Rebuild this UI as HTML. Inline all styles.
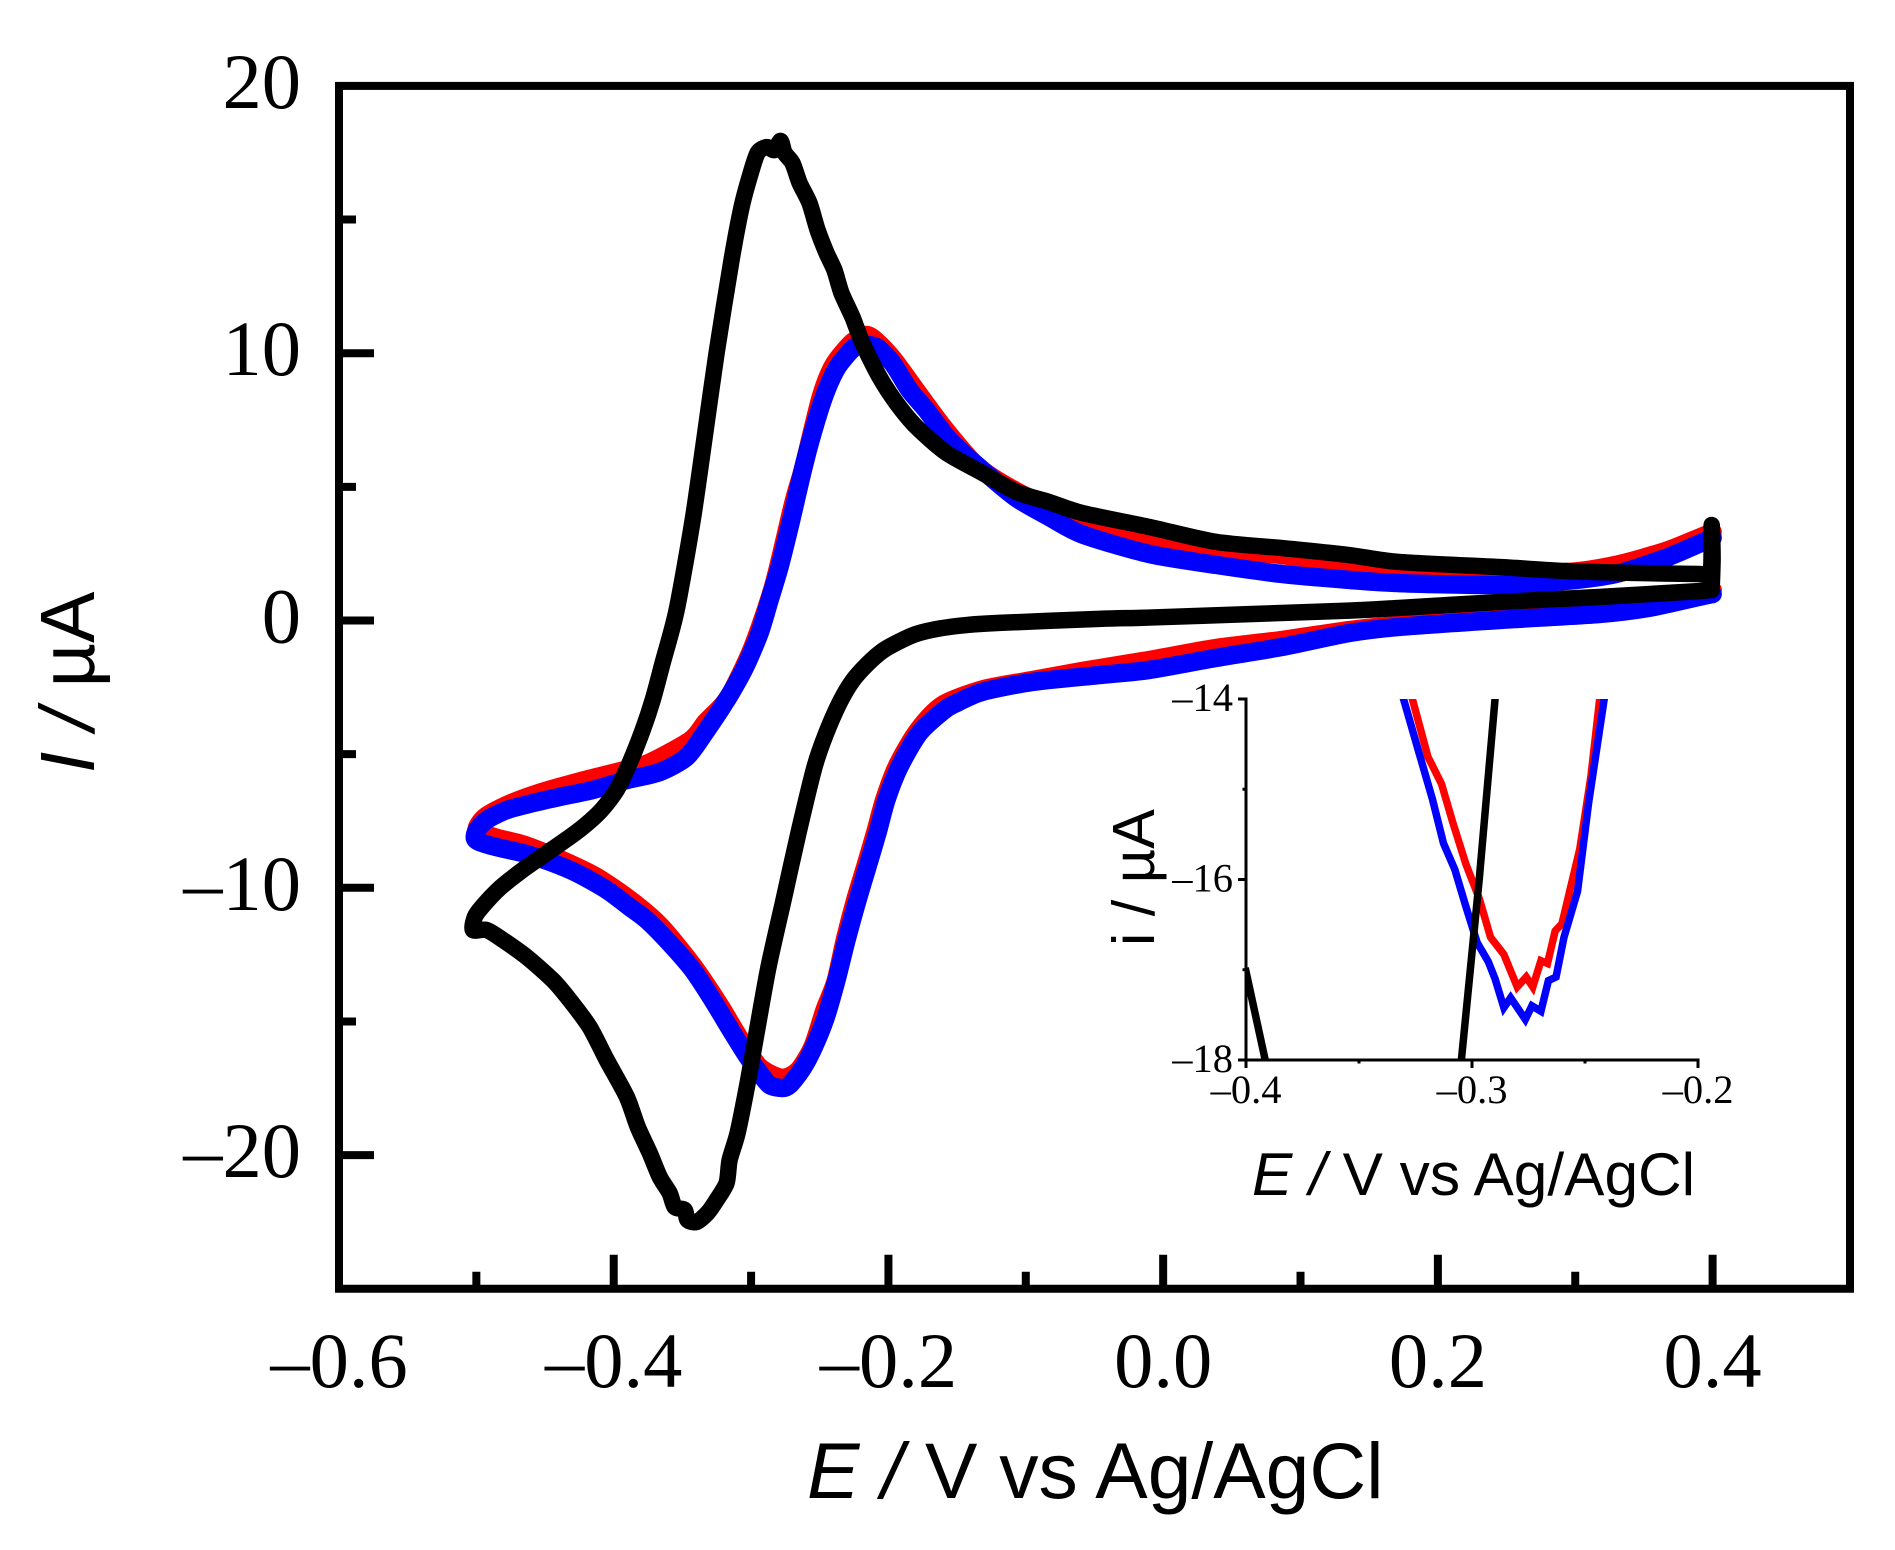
<!DOCTYPE html>
<html lang="en">
<head>
<meta charset="utf-8">
<title>Cyclic voltammograms</title>
<style>
html,body{margin:0;padding:0;background:#fff;width:1895px;height:1550px;overflow:hidden}
svg{display:block}
.num{font-family:"Liberation Serif",serif;fill:#000}
.ttl{font-family:"Liberation Sans",sans-serif;fill:#000}
</style>
</head>
<body>
<svg id="chart" xmlns="http://www.w3.org/2000/svg" width="1895" height="1550" viewBox="0 0 1895 1550">
  <rect x="0" y="0" width="1895" height="1550" fill="#fff"/>
  <defs>
    <clipPath id="inset-clip"><rect x="1246" y="699" width="452" height="361"/></clipPath>
  </defs>
  <g id="main-series"></g>
  <g id="main-axes"></g>
  <g id="inset-series" clip-path="url(#inset-clip)"></g>
  <g id="inset-axes"></g>
  <text class="ttl" x="807" y="1498" font-size="78.6"><tspan font-style="italic">E</tspan> <tspan font-style="italic">/</tspan> V vs Ag/AgCl</text>
  <text class="ttl" transform="translate(94,773) rotate(-90)" font-size="77"><tspan font-style="italic">I</tspan> <tspan font-style="italic">/</tspan> µA</text>
  <text class="ttl" x="1252" y="1195" font-size="60.4"><tspan font-style="italic">E</tspan> <tspan font-style="italic">/</tspan> V vs Ag/AgCl</text>
  <text class="ttl" transform="translate(1154,946) rotate(-90)" font-size="59.5">i / µA</text>
</svg>
<script>
// ---- main plot tick values ----
const mainXMajor = [-0.6, -0.4, -0.2, 0.0, 0.2, 0.4];
const mainXMinor = [-0.5, -0.3, -0.1, 0.1, 0.3];
const mainYMajor = [20, 10, 0, -10, -20];
const mainYMinor = [15, 5, -5, -15];
// ---- main plot series ----
const redE = [0.4,0.3898,0.3171,0.2444,0.1716,0.1353,0.0865,0.0385,-0.0102,-0.0589,-0.0953,-0.1302,-0.1607,-0.1789,-0.1935,-0.2029,-0.2095,-0.2167,-0.224,-0.2315,-0.2385,-0.2465,-0.2553,-0.2662,-0.2778,-0.2938,-0.3084,-0.3229,-0.3425,-0.3658,-0.3869,-0.4124,-0.4364,-0.4647,-0.4844,-0.4975,-0.4996,-0.4938,-0.4778,-0.4524,-0.4211,-0.3978,-0.3745,-0.344,-0.3331,-0.3215,-0.3142,-0.2989,-0.2836,-0.2691,-0.2618,-0.2495,-0.24,-0.2262,-0.216,-0.208,-0.1964,-0.1789,-0.16,-0.1353,-0.1069,-0.0589,-0.0102,0.0385,0.0865,0.1353,0.1716,0.2444,0.2931,0.3295,0.3658,0.3898,0.4];
const redI = [1.14,0.99,0.36,0.09,-0.17,-0.36,-0.73,-1.03,-1.48,-1.89,-2.23,-2.56,-3.16,-4.13,-5.41,-6.68,-7.91,-9.18,-10.42,-11.9,-13.5,-14.57,-15.95,-16.85,-17.11,-16.7,-15.62,-14.38,-12.89,-11.43,-10.49,-9.59,-8.99,-8.4,-8.14,-7.91,-7.76,-7.35,-6.9,-6.42,-5.97,-5.67,-5.33,-4.47,-3.8,-3.2,-2.67,-0.99,1.33,4.43,5.74,8.32,9.56,10.42,10.68,10.42,9.78,8.55,7.24,5.78,4.84,3.68,3.05,2.67,2.45,2.08,1.96,1.89,1.81,2.08,2.6,3.09,3.31];
const blueE = [0.4,0.3898,0.3535,0.3171,0.2444,0.1716,0.1353,0.0865,0.0385,-0.0102,-0.0465,-0.0953,-0.1316,-0.1505,-0.1593,-0.1775,-0.192,-0.2015,-0.208,-0.2153,-0.2225,-0.2305,-0.2378,-0.2458,-0.2553,-0.2633,-0.272,-0.2771,-0.2865,-0.2938,-0.3025,-0.3135,-0.328,-0.3425,-0.3593,-0.376,-0.3884,-0.4051,-0.4269,-0.4465,-0.4662,-0.4829,-0.4975,-0.5011,-0.4996,-0.4924,-0.4778,-0.4589,-0.4393,-0.4153,-0.3905,-0.3665,-0.3469,-0.3338,-0.3178,-0.3047,-0.2938,-0.2865,-0.2793,-0.2713,-0.2611,-0.2524,-0.2451,-0.2371,-0.2269,-0.2211,-0.2087,-0.1971,-0.1847,-0.1724,-0.1556,-0.1316,-0.1069,-0.0829,-0.0589,-0.0102,0.0385,0.0865,0.1353,0.1716,0.2444,0.2931,0.3295,0.3658,0.3898,0.4];
const blueI = [0.99,0.88,0.47,0.24,0.02,-0.24,-0.47,-0.99,-1.4,-1.85,-2.04,-2.3,-2.67,-3.09,-3.35,-4.21,-5.48,-6.72,-7.95,-9.22,-10.46,-11.95,-13.45,-14.87,-16.07,-16.82,-17.38,-17.49,-17.38,-16.93,-16.33,-15.43,-14.2,-13.07,-12.07,-11.2,-10.72,-10.08,-9.45,-9.03,-8.7,-8.51,-8.29,-8.14,-7.84,-7.46,-7.09,-6.83,-6.6,-6.34,-5.97,-5.67,-5.11,-4.21,-2.97,-1.78,-0.47,0.77,2.0,3.65,5.89,7.5,8.62,9.48,10.12,10.31,10.23,9.63,8.62,7.87,6.75,5.63,4.58,3.87,3.22,2.49,2.08,1.74,1.52,1.4,1.33,1.48,1.74,2.34,2.86,3.09];
const blackE = [0.3993,0.3898,0.3171,0.2444,0.1716,0.1353,0.0625,-0.0102,-0.0465,-0.1193,-0.1433,-0.1629,-0.1796,-0.192,-0.2044,-0.2153,-0.2262,-0.2356,-0.2458,-0.2538,-0.2655,-0.2764,-0.2873,-0.296,-0.3025,-0.3098,-0.3156,-0.3178,-0.3251,-0.3316,-0.3396,-0.3462,-0.3484,-0.3556,-0.3593,-0.3665,-0.3738,-0.3825,-0.3905,-0.4051,-0.4175,-0.432,-0.4444,-0.4633,-0.4807,-0.4924,-0.5025,-0.5011,-0.496,-0.4829,-0.4662,-0.4487,-0.4269,-0.4102,-0.3978,-0.3884,-0.3789,-0.3716,-0.3644,-0.3542,-0.3425,-0.3338,-0.3251,-0.3142,-0.3069,-0.3011,-0.2953,-0.2887,-0.2829,-0.2785,-0.2756,-0.2698,-0.2647,-0.2575,-0.2516,-0.2451,-0.2393,-0.2342,-0.2262,-0.2189,-0.2065,-0.1942,-0.1796,-0.1578,-0.1316,-0.1069,-0.0829,-0.0589,-0.0102,0.0385,0.0865,0.1353,0.1716,0.2444,0.2931,0.3411,0.3898,0.3985,0.3993,0.4,0.3993];
const blackI = [1.14,1.10,0.88,0.69,0.47,0.37,0.24,0.11,0.06,-0.09,-0.17,-0.30,-0.50,-0.78,-1.14,-1.63,-2.26,-3.08,-4.28,-5.48,-7.95,-10.46,-12.96,-15.43,-17.3,-19.17,-20.18,-21.04,-21.68,-22.16,-22.5,-22.43,-22.05,-21.94,-21.42,-20.82,-19.92,-18.95,-17.82,-16.44,-15.21,-14.2,-13.45,-12.59,-11.95,-11.58,-11.58,-11.09,-10.72,-10.01,-9.33,-8.7,-7.91,-7.16,-6.34,-5.33,-4.1,-2.97,-1.59,0.39,3.76,6.86,10.01,13.49,15.47,16.59,17.49,17.71,17.6,17.94,17.49,17.11,16.37,15.62,14.61,13.75,13.11,12.25,11.35,10.38,9.11,8.14,7.24,6.27,5.52,4.81,4.43,4.02,3.5,2.94,2.71,2.45,2.19,2.0,1.85,1.78,1.74,1.78,3.57,2.34,1.14];
// ---- inset tick values ----
const insetXMajor = [-0.4, -0.3, -0.2];
const insetXMinor = [-0.35, -0.25];
const insetYMajor = [-14, -16, -18];
const insetYMinor = [-15, -17];
// ---- inset series ----
const insetRedE = [-0.3264,-0.3195,-0.3135,-0.3086,-0.3027,-0.2968,-0.2918,-0.2859,-0.28,-0.276,-0.2731,-0.2695,-0.2666,-0.2632,-0.2602,-0.2523,-0.2474,-0.2435];
const insetRedI = [-14,-14.64,-14.94,-15.36,-15.83,-16.21,-16.64,-16.83,-17.19,-17.08,-17.19,-16.9,-16.93,-16.57,-16.49,-15.66,-14.86,-14];
const insetBlueE = [-0.3303,-0.3234,-0.3175,-0.3126,-0.3076,-0.3027,-0.2977,-0.2928,-0.2898,-0.2859,-0.2829,-0.2764,-0.2735,-0.2695,-0.2662,-0.2628,-0.2593,-0.2533,-0.2484,-0.2415];
const insetBlueI = [-14,-14.6,-15.11,-15.6,-15.89,-16.3,-16.7,-16.91,-17.1,-17.42,-17.31,-17.55,-17.4,-17.46,-17.12,-17.08,-16.64,-16.13,-15.15,-14];
const insetBlackAE = [-0.2898,-0.2968,-0.3047];
const insetBlackAI = [-14,-16,-18];
const insetBlackBE = [-0.4,-0.3915];
const insetBlackBI = [-17.02,-18];

// ---- axis functions ----
const mainX = e => 339 + (e + 0.6) * 1373.6;
const mainY = i => 620.5 - 26.73 * i;
const insetX = e => 1246 + (e + 0.4) * 2260;
const insetY = i => 699 + (-14 - i) * 90.25;

const NS = 'http://www.w3.org/2000/svg';
const fmtSigned = (v, d) => (v < 0 ? '\u2013' : '') + Math.abs(v).toFixed(d);

function make(tag, parent, attrs) {
  const el = document.createElementNS(NS, tag);
  for (const k in attrs) el.setAttribute(k, attrs[k]);
  parent.appendChild(el);
  return el;
}
function pathD(es, is, fx, fy) {
  return es.map((e, n) => (n ? 'L' : 'M') + fx(e).toFixed(2) + ' ' + fy(is[n]).toFixed(2)).join('');
}
// Smooth curve through every data point (Catmull-Rom converted to cubic Beziers).
function smoothD(es, is, fx, fy) {
  const px = es.map(fx);
  const py = is.map(fy);
  const k = 0.13;
  let d = 'M' + px[0].toFixed(2) + ' ' + py[0].toFixed(2);
  for (let n = 0; n < px.length - 1; n++) {
    const a = Math.max(n - 1, 0);
    const b = Math.min(n + 2, px.length - 1);
    const c1x = px[n] + (px[n + 1] - px[a]) * k;
    const c1y = py[n] + (py[n + 1] - py[a]) * k;
    const c2x = px[n + 1] - (px[b] - px[n]) * k;
    const c2y = py[n + 1] - (py[b] - py[n]) * k;
    d += 'C' + c1x.toFixed(2) + ' ' + c1y.toFixed(2) + ' ' + c2x.toFixed(2) + ' ' + c2y.toFixed(2) + ' ' + px[n + 1].toFixed(2) + ' ' + py[n + 1].toFixed(2);
  }
  return d;
}

const mainSeries = document.getElementById('main-series');
const mainAxes = document.getElementById('main-axes');
const insetSeries = document.getElementById('inset-series');
const insetAxes = document.getElementById('inset-axes');

// main series
const common = { fill: 'none', 'stroke-linejoin': 'round', 'stroke-linecap': 'round' };
let el;
el = make('path', mainSeries, { ...common, d: smoothD(redE, redI, mainX, mainY), stroke: '#ff0000', 'stroke-width': 18.5 });


el = make('path', mainSeries, { ...common, d: smoothD(blueE, blueI, mainX, mainY), stroke: '#0000ff', 'stroke-width': 18.5 });


el = make('path', mainSeries, { ...common, d: smoothD(blackE, blackI, mainX, mainY), stroke: '#000000', 'stroke-width': 16.5 });



// main frame
el = make('rect', mainAxes, { x: mainX(-0.6), y: mainY(20), width: 1511, height: mainY(-25) - mainY(20), fill: 'none', stroke: '#000', 'stroke-width': 8 });



// main x ticks
mainXMajor.forEach(v => {
  const tick = make('line', mainAxes, { x1: mainX(v), x2: mainX(v), y1: mainY(-25), y2: mainY(-25) - 34, stroke: '#000', 'stroke-width': 8 });
  
  
  const label = make('text', mainAxes, { class: 'num', x: mainX(v), y: 1387, 'font-size': 78.5, 'text-anchor': 'middle' });
  
  
  label.textContent = fmtSigned(v, 1);
});
mainXMinor.forEach(v => {
  const tick = make('line', mainAxes, { x1: mainX(v), x2: mainX(v), y1: mainY(-25), y2: mainY(-25) - 17, stroke: '#000', 'stroke-width': 8 });
  
  
});
// main y ticks
mainYMajor.forEach(v => {
  if (v !== 20) {
    const tick = make('line', mainAxes, { x1: 339, x2: 374, y1: mainY(v), y2: mainY(v), stroke: '#000', 'stroke-width': 8 });
    
    
  }
  const label = make('text', mainAxes, { class: 'num', x: 301, y: mainY(v) + 22, 'font-size': 78.5, 'text-anchor': 'end' });
  
  
  label.textContent = fmtSigned(v, 0);
});
mainYMinor.forEach(v => {
  const tick = make('line', mainAxes, { x1: 339, x2: 356, y1: mainY(v), y2: mainY(v), stroke: '#000', 'stroke-width': 8 });
  
  
});

// inset series
const insetCommon = { fill: 'none', 'stroke-linejoin': 'miter', 'stroke-linecap': 'square', 'stroke-width': 7.5 };
el = make('path', insetSeries, { ...insetCommon, d: pathD(insetRedE, insetRedI, insetX, insetY), stroke: '#ff0000' });


el = make('path', insetSeries, { ...insetCommon, d: pathD(insetBlueE, insetBlueI, insetX, insetY), stroke: '#0000ff' });


el = make('path', insetSeries, { ...insetCommon, d: pathD(insetBlackAE, insetBlackAI, insetX, insetY), stroke: '#000000' });


el = make('path', insetSeries, { ...insetCommon, d: pathD(insetBlackBE, insetBlackBI, insetX, insetY), stroke: '#000000' });



// inset axes
el = make('line', insetAxes, { x1: insetX(-0.4), x2: insetX(-0.4), y1: insetY(-14) - 1.5, y2: insetY(-18) + 1.5, stroke: '#000', 'stroke-width': 3 });


el = make('line', insetAxes, { x1: insetX(-0.4), x2: insetX(-0.2) + 1.5, y1: insetY(-18), y2: insetY(-18), stroke: '#000', 'stroke-width': 3 });



insetXMajor.forEach(v => {
  const tick = make('line', insetAxes, { x1: insetX(v), x2: insetX(v), y1: insetY(-18), y2: insetY(-18) + 8, stroke: '#000', 'stroke-width': 3 });
  
  
  const label = make('text', insetAxes, { class: 'num', x: insetX(v), y: 1103, 'font-size': 40.5, 'text-anchor': 'middle' });
  
  
  label.textContent = fmtSigned(v, 1);
});
insetXMinor.forEach(v => {
  const tick = make('line', insetAxes, { x1: insetX(v), x2: insetX(v), y1: insetY(-18), y2: insetY(-18) + 3.5, stroke: '#000', 'stroke-width': 3 });
  
  
});
insetYMajor.forEach(v => {
  const tick = make('line', insetAxes, { x1: insetX(-0.4) - 8, x2: insetX(-0.4), y1: insetY(v), y2: insetY(v), stroke: '#000', 'stroke-width': 3 });
  
  
  const label = make('text', insetAxes, { class: 'num', x: 1233, y: insetY(v) + 12, 'font-size': 40.5, 'text-anchor': 'end' });
  
  
  label.textContent = fmtSigned(v, 0);
});
insetYMinor.forEach(v => {
  const tick = make('line', insetAxes, { x1: insetX(-0.4) - 3.5, x2: insetX(-0.4), y1: insetY(v), y2: insetY(v), stroke: '#000', 'stroke-width': 3 });
  
  
});
</script>
</body>
</html>
